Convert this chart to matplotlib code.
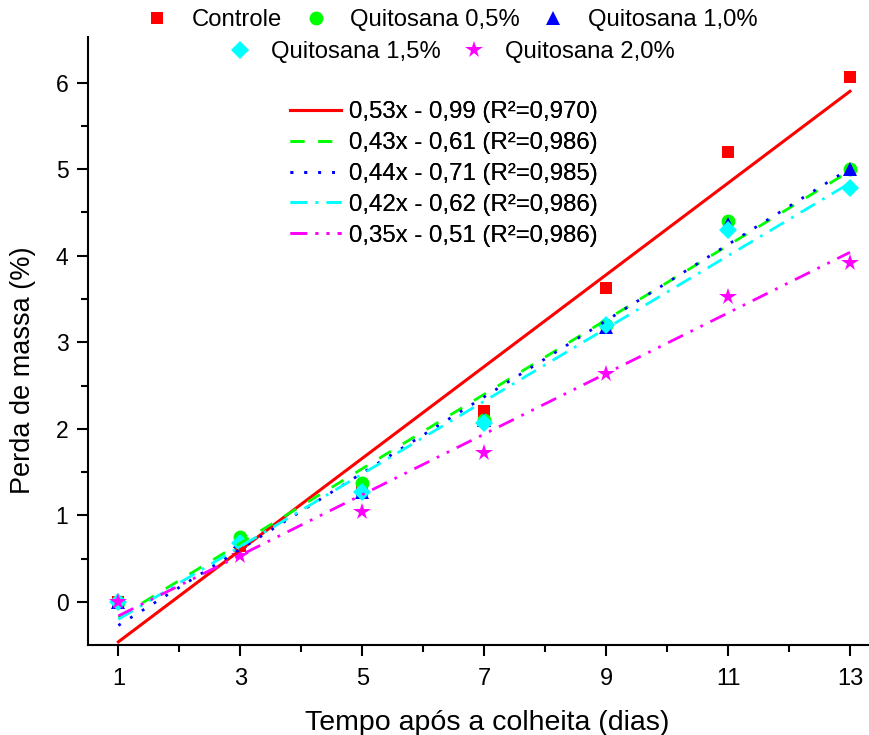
import matplotlib
matplotlib.use('Agg')
import matplotlib.pyplot as plt
from matplotlib.lines import Line2D
import numpy as np

plt.rcParams['font.family'] = ['Liberation Sans', 'DejaVu Sans']

dias = [1, 3, 5, 7, 9, 11, 13]

SERIES = ["Controle", "Quitosana 0,5%", "Quitosana 1,0%", "Quitosana 1,5%", "Quitosana 2,0%"]

controle = [0.0, 0.65, 1.30, 2.21, 3.63, 5.20, 6.07]
quit05 = [0.0, 0.75, 1.38, 2.10, 3.20, 4.40, 5.00]
quit10 = [0.0, 0.70, 1.27, 2.10, 3.18, 4.37, 5.00]
quit15 = [0.0, 0.68, 1.27, 2.07, 3.20, 4.30, 4.78]
quit20 = [0.0, 0.53, 1.04, 1.72, 2.64, 3.52, 3.92]

slopes = [0.53, 0.43, 0.44, 0.42, 0.35]
intercepts = [-0.99, -0.61, -0.71, -0.62, -0.51]
r2 = ["0,970", "0,986", "0,985", "0,986", "0,986"]

COLORS = ['#ff0000', '#00ff00', '#0000ff', '#00ffff', '#ff00ff']
MARKERS = ['s', 'o', '^', 'D', '*']
MSIZES = [9, 10, 10, 9, 13]
STYLES = ['-', (0, (5, 5)), (0, (1, 4)), (0, (6, 3, 1, 3)), (0, (6, 3, 1, 3, 1, 3))]

data = [controle, quit05, quit10, quit15, quit20]

fig = plt.figure(figsize=(8.7, 7.35), dpi=100)
ax = fig.add_axes([0.101, 0.122, 0.897, 0.828])

xs = np.array([dias[0], dias[-1]])
fit_handles = []
for i in range(len(SERIES)):
    ax.plot(dias, data[i], linestyle='none', marker=MARKERS[i], color=COLORS[i],
            markersize=MSIZES[i], markeredgewidth=0, zorder=2)
    lbl = f"{slopes[i]:.2f}x - {abs(intercepts[i]):.2f} (R²={r2[i]})".replace('.', ',')
    h, = ax.plot(xs, slopes[i] * xs + intercepts[i], linestyle=STYLES[i], color=COLORS[i],
                 linewidth=2.2 if i == 0 else 2.0, label=lbl, zorder=3)
    fit_handles.append(h)

ax.set_xlim(0.5, 13.3)
ax.set_ylim(-0.5, 6.53)
ax.set_xticks([1, 3, 5, 7, 9, 11, 13])
ax.set_xticks([2, 4, 6, 8, 10, 12], minor=True)
ax.set_yticks([0, 1, 2, 3, 4, 5, 6])
ax.set_yticks([0.5, 1.5, 2.5, 3.5, 4.5, 5.5], minor=True)
ax.spines['top'].set_visible(False)
ax.spines['right'].set_visible(False)
for s in ['left', 'bottom']:
    ax.spines[s].set_linewidth(1.5)
ax.tick_params(which='major', direction='out', length=8, width=1.5, labelsize=16.5)
ax.tick_params(which='minor', direction='out', length=5, width=1.5)
ax.tick_params(axis='x', pad=8, labelsize=17)
ax.tick_params(axis='y', pad=6)

# axis titles placed by hand, as in the original
fig.text(487 / 870, 1 - 730 / 735, 'Tempo após a colheita (dias)', fontsize=20.5,
         ha='center', va='baseline')
fig.text(23 / 870, 1 - 370 / 735, 'Perda de massa (%)', fontsize=19.5,
         rotation=90, ha='center', va='center')

leg_fit = ax.legend(handles=fit_handles, loc='upper left', bbox_to_anchor=(0.247, 0.910),
                    frameon=False, fontsize=17.3, handlelength=2.1, handletextpad=0.35,
                    labelspacing=0.37, borderaxespad=0)
ax.add_artist(leg_fit)

def marker_handle(i):
    return Line2D([], [], linestyle='none', marker=MARKERS[i], color=COLORS[i],
                  markersize=MSIZES[i], markeredgewidth=0)

row1 = [marker_handle(i) for i in range(3)]
row2 = [marker_handle(i) for i in range(3, 5)]
leg1 = fig.legend(handles=row1, labels=SERIES[:3], loc='center', bbox_to_anchor=(0.519, 1 - 20 / 735),
                  ncol=3, frameon=False, fontsize=17.2, handletextpad=0.95, columnspacing=0.9,
                  handlelength=1.0, borderaxespad=0, borderpad=0)
leg2 = fig.legend(handles=row2, labels=SERIES[3:], loc='center', bbox_to_anchor=(0.519, 1 - 52 / 735),
                  ncol=2, frameon=False, fontsize=17.2, handletextpad=0.8, columnspacing=0.9,
                  handlelength=1.0, borderaxespad=0, borderpad=0)

fig.savefig('out.png', dpi=100)
